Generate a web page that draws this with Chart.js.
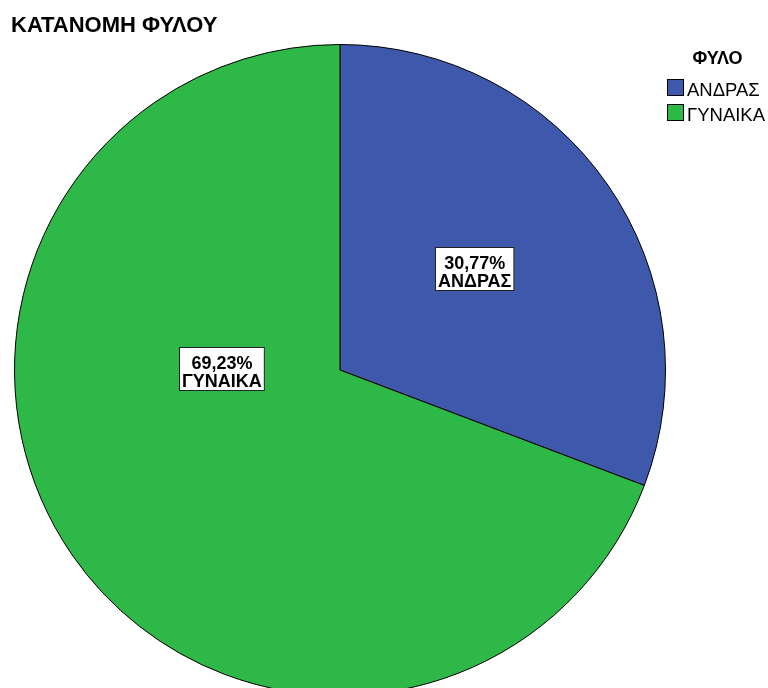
<!DOCTYPE html>
<html lang="el">
<head>
<meta charset="utf-8">
<title>ΚΑΤΑΝΟΜΗ ΦΥΛΟΥ</title>
<script src="https://cdn.jsdelivr.net/npm/chart.js@4/dist/chart.umd.min.js"></script>
<style>
    html, body {
        margin: 0;
        padding: 0;
        width: 768px;
        height: 688px;
        overflow: hidden;
        background: #fff;
        font-family: "Liberation Sans", Arial, sans-serif;
    }
    #wrap {
        position: absolute;
        left: 0;
        top: 0;
        width: 768px;
        height: 720px;
    }
    .chart-title {
        position: absolute;
        left: 11px;
        top: 13px;
        font-size: 22px;
        font-weight: bold;
        line-height: 24px;
        color: #000;
        white-space: nowrap;
    }
    .legend {
        position: absolute;
        left: 667px;
        top: 48px;
        width: 101px;
        color: #000;
    }
    .legend-title {
        font-size: 18px;
        font-weight: bold;
        line-height: 20px;
        text-align: center;
        height: 29px;
    }
    .legend-item {
        height: 25px;
        line-height: 25px;
        font-size: 18.5px;
        white-space: nowrap;
        position: relative;
    }
    .legend-swatch {
        position: absolute;
        left: 0;
        top: 2px;
        width: 17px;
        height: 17px;
        box-sizing: border-box;
        border: 1px solid #000;
    }
    .legend-text {
        position: absolute;
        left: 20px;
        top: 0;
    }
</style>
</head>
<body>
<div id="wrap"><canvas id="pie"></canvas></div>
<div class="chart-title" id="title"></div>
<div class="legend" id="legend"></div>

<script>
// Gender split, percentages
const chartTitle = 'ΚΑΤΑΝΟΜΗ ΦΥΛΟΥ';
const legendTitle = 'ΦΥΛΟ';
const categories = ['ΑΝΔΡΑΣ', 'ΓΥΝΑΙΚΑ'];
const percents = [30.77, 69.23];
const sliceColors = ['#3e58ac', '#2eb848'];

document.getElementById('title').textContent = chartTitle;

// Legend built by hand so it sits at the top right like the original
const legendEl = document.getElementById('legend');
const lt = document.createElement('div');
lt.className = 'legend-title';
lt.textContent = legendTitle;
legendEl.appendChild(lt);
categories.forEach((name, i) => {
    const row = document.createElement('div');
    row.className = 'legend-item';
    const sw = document.createElement('span');
    sw.className = 'legend-swatch';
    sw.style.background = sliceColors[i];
    const tx = document.createElement('span');
    tx.className = 'legend-text';
    tx.textContent = name;
    row.appendChild(sw);
    row.appendChild(tx);
    legendEl.appendChild(row);
});

function formatPct(v) {
    return v.toFixed(2).replace('.', ',') + '%';
}

// Boxed value labels inside each slice (polar spot relative to the pie)
const boxLabels = {
    id: 'boxLabels',
    afterDatasetsDraw(chart, args, opts) {
        const ctx = chart.ctx;
        const meta = chart.getDatasetMeta(0);
        const fontSize = 18;
        const lineGap = 17.5;
        ctx.save();
        ctx.font = 'bold ' + fontSize + 'px "Liberation Sans", Arial, sans-serif';
        ctx.textAlign = 'center';
        ctx.textBaseline = 'alphabetic';
        meta.data.forEach((arc, i) => {
            const spot = opts.spots[i];
            const ang = spot.angle * Math.PI / 180;
            const cx = arc.x + Math.cos(ang) * arc.outerRadius * spot.r;
            const cy = arc.y + Math.sin(ang) * arc.outerRadius * spot.r;
            const lines = [formatPct(percents[i]), categories[i]];
            const w = Math.max(...lines.map(l => ctx.measureText(l).width)) + 5;
            const h = 43;
            const left = Math.round(cx - w / 2) + 0.5;
            const top = Math.round(cy - h / 2) + 0.5;
            ctx.fillStyle = '#fff';
            ctx.fillRect(left, top, w, h);
            ctx.strokeStyle = '#222';
            ctx.lineWidth = 1;
            ctx.strokeRect(left, top, w, h);
            ctx.fillStyle = '#000';
            lines.forEach((l, k) => {
                ctx.fillText(l, left + w / 2, top + 21.5 + k * lineGap);
            });
        });
        ctx.restore();
    }
};

const ctx = document.getElementById('pie').getContext('2d');
new Chart(ctx, {
    type: 'pie',
    data: {
        labels: categories,
        datasets: [{
            data: percents,
            backgroundColor: sliceColors,
            borderColor: '#000',
            borderWidth: 1
        }]
    },
    options: {
        responsive: true,
        maintainAspectRatio: false,
        animation: false,
        layout: {
            padding: { left: 14, top: 44, right: 102, bottom: 24 }
        },
        plugins: {
            legend: { display: false },
            title: { display: false },
            tooltip: { enabled: false },
            boxLabels: {
                spots: [
                    { angle: -37.1, r: 0.517 },
                    { angle: 180.7, r: 0.364 }
                ]
            }
        }
    },
    plugins: [boxLabels]
});
</script>
</body>
</html>
